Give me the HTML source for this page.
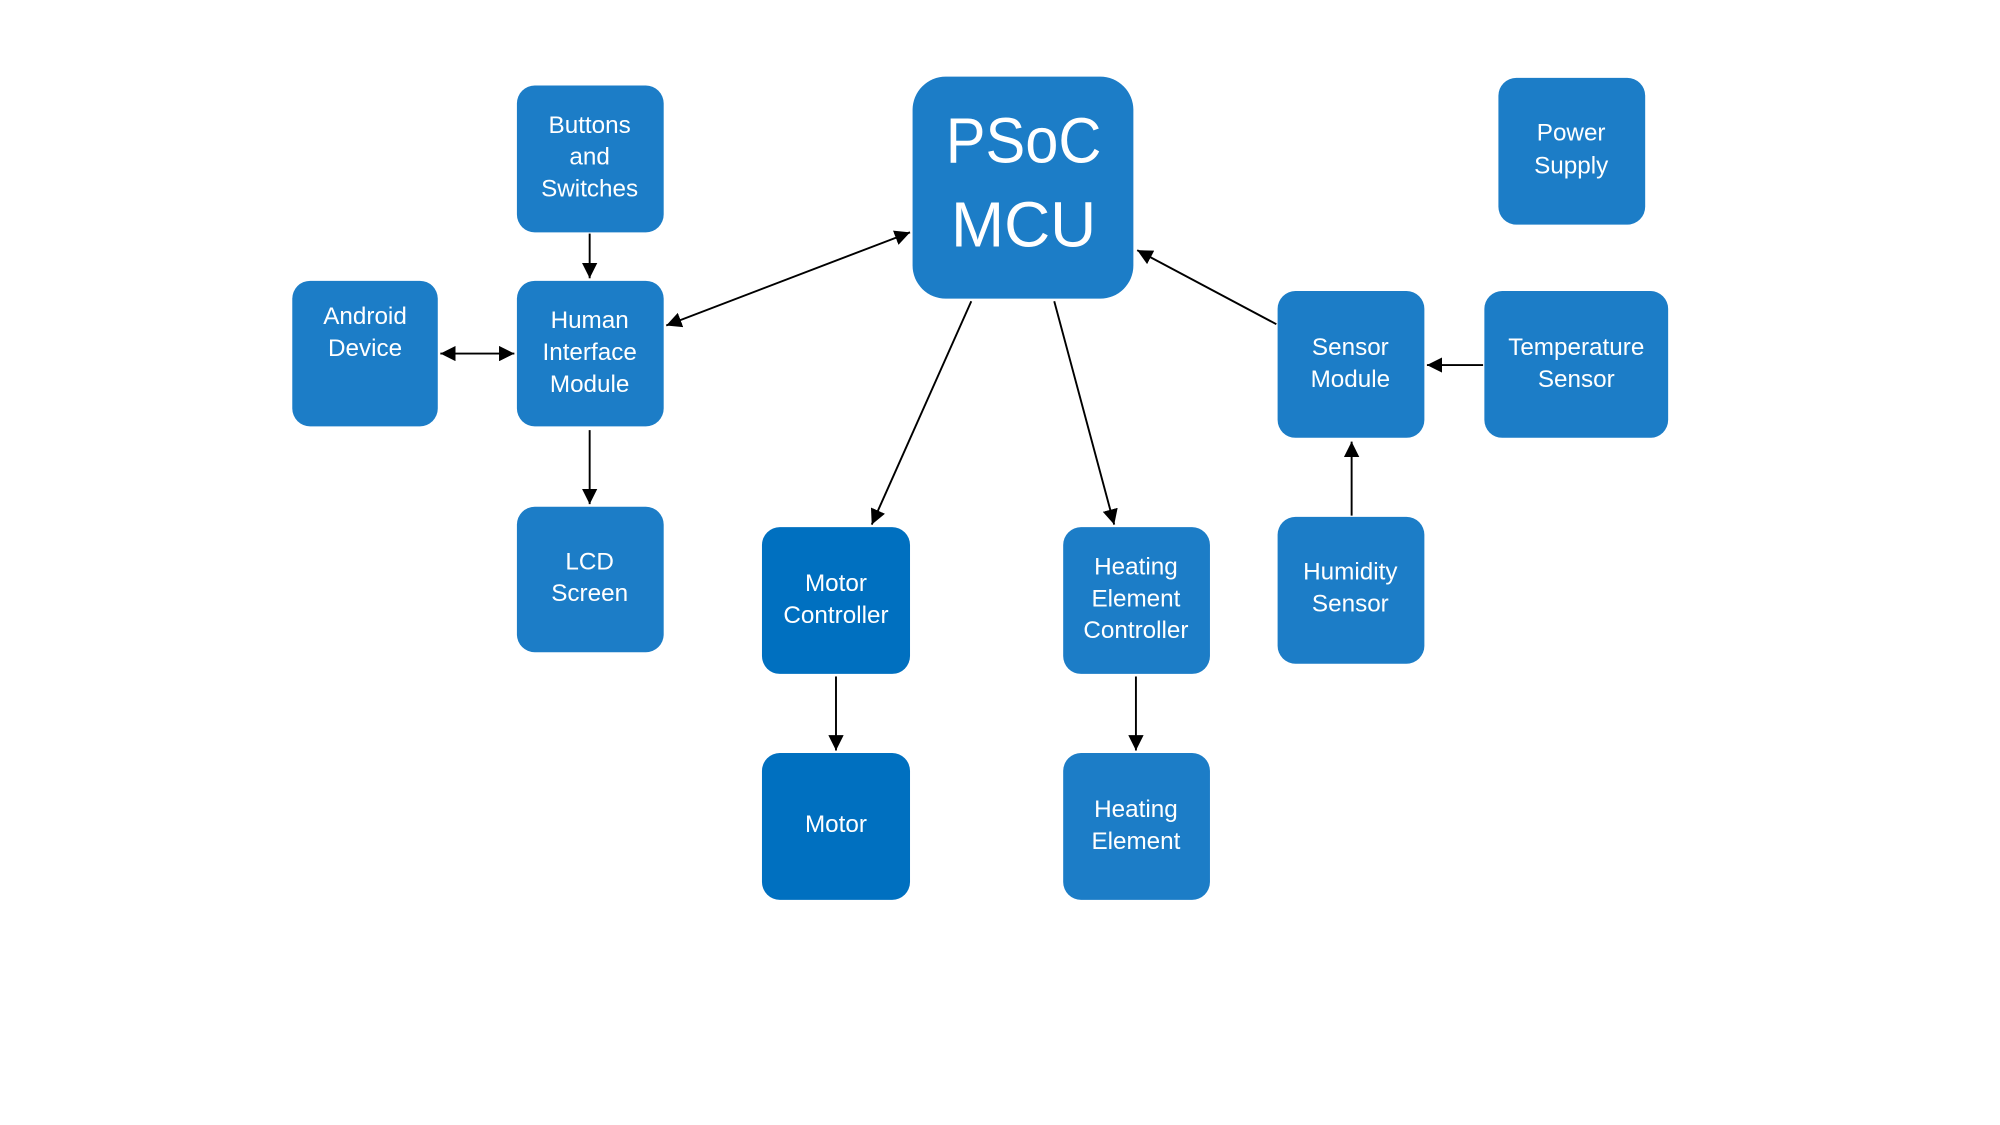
<!DOCTYPE html>
<html><head><meta charset="utf-8"><style>
html,body{margin:0;padding:0;background:#fff;width:2000px;height:1125px;overflow:hidden}
svg{display:block}
text{font-family:"Liberation Sans",sans-serif;fill:#fff;text-anchor:middle;dominant-baseline:middle}
</style></head><body>
<svg width="2000" height="1125" viewBox="0 0 1567 881.4" xmlns="http://www.w3.org/2000/svg">
<defs><marker id="b" viewBox="0 0 10 10" refX="10" refY="5" markerWidth="12" markerHeight="12" markerUnits="userSpaceOnUse" orient="auto-start-reverse"><path d="M0,0L10,5L0,10z" fill="#000"/></marker></defs>
<g fill="#1C7DC7">
<rect x="715" y="60" width="173" height="174" rx="26"/>
<rect x="405" y="67" width="115" height="115" rx="14"/>
<rect x="1174" y="61" width="115" height="115" rx="14"/>
<rect x="229" y="220" width="114" height="114" rx="14"/>
<rect x="405" y="220" width="115" height="114" rx="14"/>
<rect x="1001" y="228" width="115" height="115" rx="14"/>
<rect x="1163" y="228" width="144" height="115" rx="14"/>
<rect x="405" y="397" width="115" height="114" rx="14"/>
<rect x="833" y="413" width="115" height="115" rx="14"/>
<rect x="1001" y="405" width="115" height="115" rx="14"/>
<rect x="833" y="590" width="115" height="115" rx="14"/>
</g>
<g fill="#0070C0">
<rect x="597" y="413" width="116" height="115" rx="14"/>
<rect x="597" y="590" width="116" height="115" rx="14"/>
</g>
<g stroke="#000" stroke-width="1.5" marker-end="url(#b)" fill="none">
<line x1="462" y1="183" x2="462" y2="218"/>
<line x1="522" y1="255" x2="713" y2="182" marker-start="url(#b)"/>
<line x1="345" y1="277" x2="403" y2="277" marker-start="url(#b)"/>
<line x1="462" y1="337" x2="462" y2="395"/>
<line x1="761" y1="236" x2="683" y2="411"/>
<line x1="826" y1="236" x2="873" y2="411"/>
<line x1="1000" y1="254" x2="891" y2="196"/>
<line x1="1162" y1="286" x2="1118" y2="286"/>
<line x1="1059" y1="404" x2="1059" y2="346"/>
<line x1="655" y1="530" x2="655" y2="588"/>
<line x1="890" y1="530" x2="890" y2="588"/>
</g>
<g font-size="50"><text x="802" y="114" textLength="122" lengthAdjust="spacingAndGlyphs">PSoC</text><text x="802" y="180">MCU</text></g>
<g font-size="19">
<text x="462" y="99">Buttons</text><text x="462" y="124">and</text><text x="462" y="149">Switches</text>
<text x="1231" y="105">Power</text><text x="1231" y="131">Supply</text>
<text x="286" y="249">Android</text><text x="286" y="274">Device</text>
<text x="462" y="252">Human</text><text x="462" y="277">Interface</text><text x="462" y="302">Module</text>
<text x="1058" y="273">Sensor</text><text x="1058" y="298">Module</text>
<text x="1235" y="273">Temperature</text><text x="1235" y="298">Sensor</text>
<text x="462" y="441">LCD</text><text x="462" y="466">Screen</text>
<text x="655" y="458">Motor</text><text x="655" y="483">Controller</text>
<text x="890" y="445">Heating</text><text x="890" y="470">Element</text><text x="890" y="495">Controller</text>
<text x="1058" y="449">Humidity</text><text x="1058" y="474">Sensor</text>
<text x="655" y="647">Motor</text>
<text x="890" y="635">Heating</text><text x="890" y="660">Element</text>
</g>
</svg>
</body></html>
